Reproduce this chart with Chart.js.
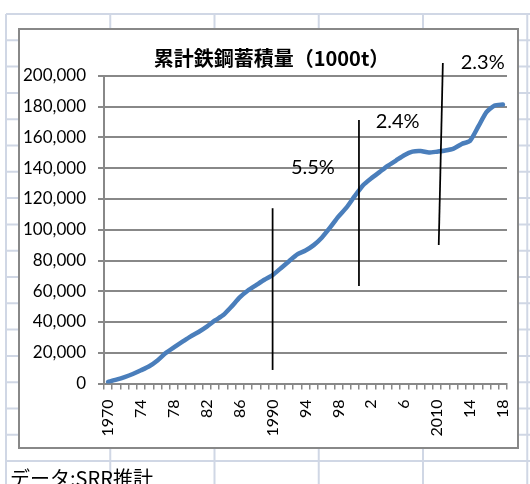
<!DOCTYPE html>
<html>
<head>
<meta charset="utf-8">
<script src="https://cdn.jsdelivr.net/npm/chart.js@4.4.1/dist/chart.umd.min.js"></script>
<style>
  body { margin: 0; background: #fff; }
  #sheet { position: absolute; left: 0; top: 0; }
  #frame {
    position: absolute; left: 18px; top: 28px; width: 501px; height: 421px;
    box-sizing: border-box; border: 2px solid #888; background: #fff;
  }
  #chart { display: block; }
  #note {
    position: absolute; left: 10px; top: 468px; color: #000; white-space: nowrap;
    font: 20px "Noto Sans CJK JP"; line-height: 20px;
  }
</style>
</head>
<body>
<canvas id="sheet" width="530" height="484"></canvas>
<div id="frame"><canvas id="chart" width="497" height="417"></canvas></div>
<div id="note">データ:SRR推計</div>
<script>
const years = [
  '1970', '1971', '1972', '1973', '1974', '1975', '1976', '1977', '1978', '1979',
  '1980', '1981', '1982', '1983', '1984', '1985', '1986', '1987', '1988', '1989',
  '1990', '1991', '1992', '1993', '1994', '1995', '1996', '1997', '1998', '1999',
  '2000', '2001', '2002', '2003', '2004', '2005', '2006', '2007', '2008', '2009',
  '2010', '2011', '2012', '2013', '2014', '2015', '2016', '2017', '2018'
];

// cumulative steel stock, 1000t
const stock = [
  1000, 2500, 4200, 6200, 8600, 11200, 15000, 19800, 23500, 27000,
  30500, 33500, 37000, 41000, 44500, 50000, 56000, 60500, 64000, 67500,
  70500, 75000, 79500, 84000, 86500, 90000, 95000, 101500, 108500, 114500,
  122000, 129000, 133500, 137500, 141500, 145000, 148500, 150800, 151200, 150200,
  150800, 151500, 152800, 155800, 157800, 167000, 176500, 180800, 181500
];

const tickYears = ['1970', '1974', '1978', '1982', '1986', '1990', '1994', '1998', '2002', '2006', '2010', '2014', '2018'];
const tickTexts = ['1970', '74', '78', '82', '86', '1990', '94', '98', '2', '6', '2010', '14', '18'];

const title = '累計鉄鋼蓄積量（1000t）';

// hand-drawn dividers (year, value at each end) and growth-rate notes
const dividerTopYear = [1990.0, 2000.5, 2010.7];
const dividerTop = [114000, 171400, 208500];
const dividerBottomYear = [1990.0, 2000.5, 2010.2];
const dividerBottom = [8800, 63400, 90100];

const rateTexts = ['5.5%', '2.4%', '2.3%'];
const rateYear = [1994.9, 2005.2, 2015.55];
const rateValue = [140200, 170100, 208500];

// spreadsheet cells behind the chart
const sheet = document.getElementById('sheet').getContext('2d');
sheet.strokeStyle = '#d0d7e5';
sheet.lineWidth = 2;
for (let x = 6; x < 540; x += 104.25) {
  sheet.beginPath(); sheet.moveTo(x, 14); sheet.lineTo(x, 484); sheet.stroke();
}
for (let y = 14; y < 490; y += 26.3) {
  sheet.beginPath(); sheet.moveTo(6, y); sheet.lineTo(530, y); sheet.stroke();
}

const growthMarks = {
  id: 'growthMarks',
  afterDraw(chart) {
    const { ctx, scales: { x, y } } = chart;
    const px = yr => x.getPixelForValue(yr - 1970);
    ctx.save();
    ctx.fillStyle = '#000';
    ctx.textAlign = 'center';
    ctx.textBaseline = 'middle';
    ctx.font = 'bold 20px "Noto Sans CJK JP"';
    ctx.fillText(title, 251.5, 28);

    ctx.strokeStyle = '#000';
    ctx.lineWidth = 1.75;
    dividerTopYear.forEach((yr, i) => {
      ctx.beginPath();
      ctx.moveTo(px(yr), y.getPixelForValue(dividerTop[i]));
      ctx.lineTo(px(dividerBottomYear[i]), y.getPixelForValue(dividerBottom[i]));
      ctx.stroke();
    });
    ctx.font = '20px Lato';
    rateTexts.forEach((t, i) => {
      ctx.fillText(t, px(rateYear[i]), y.getPixelForValue(rateValue[i]));
    });
    ctx.restore();
  }
};

const axisGray = '#888';

new Chart(document.getElementById('chart'), {
  type: 'line',
  data: {
    labels: years,
    datasets: [{
      data: stock,
      borderColor: '#4a7ebb',
      borderWidth: 4.5,
      pointRadius: 0,
      tension: 0.2,
      borderCapStyle: 'round',
      borderJoinStyle: 'round'
    }]
  },
  options: {
    responsive: false,
    animation: false,
    layout: { padding: { left: 0, right: 10, top: 46, bottom: 0 } },
    plugins: {
      legend: { display: false },
      tooltip: { enabled: false },
      title: { display: false }
    },
    scales: {
      x: {
        offset: true,
        grid: { offset: true, drawOnChartArea: false, color: axisGray, lineWidth: 1.5, tickLength: 6 },
        border: { color: axisGray, width: 2 },
        ticks: {
          autoSkip: false,
          minRotation: 90,
          maxRotation: 90,
          padding: 10,
          color: '#000',
          font: { family: 'Lato', size: 16 },
          callback: (v, i) => {
            const k = tickYears.indexOf(years[i]);
            return k >= 0 ? tickTexts[k] : '';
          }
        },
        afterFit: s => { s.height = 63.5; s.paddingLeft = 0; s.paddingRight = 0; }
      },
      y: {
        min: 0,
        max: 200000,
        grid: { color: axisGray, lineWidth: 2, tickLength: 6 },
        border: { color: axisGray, width: 2 },
        ticks: {
          stepSize: 20000,
          padding: 12,
          color: '#000',
          font: { family: 'Lato', size: 17 },
          callback: v => v.toLocaleString('en-US')
        },
        afterFit: s => { s.width = 84; s.paddingTop = 0; s.paddingBottom = 0; }
      }
    }
  },
  plugins: [growthMarks]
});
</script>
</body>
</html>
